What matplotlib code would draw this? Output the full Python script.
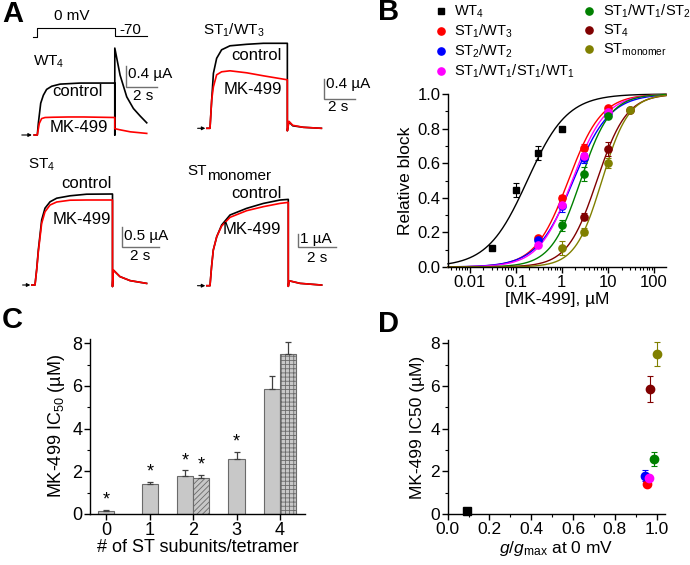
import numpy as np
import matplotlib
matplotlib.use("Agg")
import matplotlib.pyplot as plt
from matplotlib.lines import Line2D
from matplotlib.ticker import MultipleLocator, NullFormatter, LogLocator

plt.rcParams['font.family'] = ['Liberation Sans', 'DejaVu Sans']
plt.rcParams['mathtext.fontset'] = 'custom'
plt.rcParams['mathtext.rm'] = 'Liberation Sans'
plt.rcParams['mathtext.it'] = 'Liberation Sans:italic'
plt.rcParams['mathtext.bf'] = 'Liberation Sans:bold'
plt.rcParams['hatch.linewidth'] = 0.6

# ---------------- Panel A data (currents in uA, time in s) ----------------
prot_t = [-0.28, 0.0, 0.0, 5.0, 5.0, 7.05]
prot_v = [-80, -80, 0, 0, -70, -70]

wt4_t_ctrl = [-0.2, 0.0, 0.067, 0.22, 0.39, 0.6, 0.93, 1.47, 2.76, 5.0, 5.0, 5.0, 5.34, 5.77, 6.2, 6.63, 7.06]
wt4_ctrl = [0, 0, 0.22, 0.60, 0.75, 0.86, 0.92, 0.96, 0.98, 0.98, 0.0, 1.64, 1.13, 0.72, 0.50, 0.36, 0.23]
wt4_t_mk = [-0.2, 0.0, 0.13, 0.28, 0.5, 1.0, 2.0, 3.0, 4.0, 5.0, 5.0, 5.3, 6.0, 7.06]
wt4_mk = [0, 0, 0.22, 0.31, 0.33, 0.335, 0.34, 0.34, 0.335, 0.33, 0.12, 0.10, 0.06, 0.03]

st1_t = [-0.2, 0.0, 0.11, 0.22, 0.43, 0.75, 1.29, 2.37, 3.45, 5.0, 5.0, 5.1, 5.35, 6.03, 7.2]
st1_ctrl = [0, 0, 0.57, 1.10, 1.40, 1.57, 1.65, 1.68, 1.70, 1.70, -0.05, 0.13, 0.05, 0.02, 0.0]
st1_mk = [0, 0, 0.57, 0.83, 1.07, 1.13, 1.15, 1.11, 1.05, 0.97, -0.05, 0.14, 0.06, 0.02, 0.0]

st4_t = [-0.2, 0.0, 0.11, 0.215, 0.43, 0.645, 0.97, 1.4, 2.26, 3.33, 5.0, 5.0, 5.05, 5.48, 6.13, 7.2]
st4_ctrl = [0, 0, 0.40, 0.875, 1.625, 1.92, 2.08, 2.17, 2.23, 2.27, 2.275, -0.04, 0.375, 0.21, 0.11, 0.04]
st4_mk = [0, 0, 0.38, 0.83, 1.54, 1.83, 2.0, 2.075, 2.12, 2.125, 2.125, -0.04, 0.375, 0.21, 0.11, 0.04]

mono_t = [-0.2, 0.0, 0.1, 0.21, 0.43, 0.745, 1.28, 2.34, 3.41, 4.47, 5.0, 5.0, 5.05, 5.75, 7.13]
mono_ctrl = [0, 0, 1.46, 2.74, 3.77, 4.67, 5.44, 5.95, 6.33, 6.59, 6.64, -0.05, 0.38, 0.18, 0.05]
mono_mk = [0, 0, 1.46, 2.74, 3.77, 4.59, 5.26, 5.77, 6.08, 6.33, 6.41, -0.05, 0.38, 0.18, 0.05]

# ---------------- Panel B data ----------------
b_names = ['WT$_4$', 'ST$_1$/WT$_3$', 'ST$_2$/WT$_2$', 'ST$_1$/WT$_1$/ST$_1$/WT$_1$',
           'ST$_1$/WT$_1$/ST$_2$', 'ST$_4$', 'ST$_{\\mathrm{monomer}}$']
b_colors = ['black', '#ff0000', '#0000ff', '#ff00ff', '#008000', '#800000', '#808000']
b_markers = ['s', 'o', 'o', 'o', 'o', 'o', 'o']
b_conc = [[0.03, 0.1, 0.3, 1],
          [0.3, 1, 3, 10],
          [0.3, 1, 3, 10],
          [0.3, 1, 3, 10],
          [1, 3, 10],
          [3, 10, 30],
          [1, 3, 10, 30]]
b_block = [[0.11, 0.445, 0.66, 0.80],
           [0.165, 0.40, 0.69, 0.92],
           [0.155, 0.35, 0.63, 0.89],
           [0.13, 0.36, 0.64, 0.895],
           [0.24, 0.54, 0.875],
           [0.29, 0.68, 0.91],
           [0.11, 0.205, 0.60, 0.905]]
b_err = [[0.01, 0.04, 0.04, 0.01],
         [0.015, 0.015, 0.02, 0.01],
         [0.015, 0.03, 0.03, 0.015],
         [0.015, 0.02, 0.02, 0.01],
         [0.03, 0.04, 0.015],
         [0.02, 0.04, 0.01],
         [0.04, 0.02, 0.03, 0.01]]
b_ic50 = [0.18, 1.4, 1.8, 1.7, 2.58, 5.85, 7.5]
b_hill = [1.0, 1.2, 1.1, 1.2, 1.35, 1.35, 1.5]

# ---------------- Panel C data ----------------
c_cat = [0, 1, 2, 2, 3, 4, 4]
c_val = [0.15, 1.4, 1.8, 1.7, 2.58, 5.85, 7.5]
c_err = [0.05, 0.1, 0.25, 0.15, 0.33, 0.6, 0.55]
c_hatch = [None, None, None, '//////', None, None, '++++']
c_star = [True, True, True, True, True, False, False]
c_ticklabels = ['0', '1', '2', '3', '4']

# ---------------- Panel D data ----------------
d_g = [0.09, 0.953, 0.944, 0.965, 0.985, 0.968, 1.0]
d_ic50 = [0.15, 1.4, 1.8, 1.7, 2.58, 5.85, 7.5]
d_err = [0.06, 0.1, 0.25, 0.15, 0.33, 0.6, 0.55]
d_colors = ['black', '#ff0000', '#0000ff', '#ff00ff', '#008000', '#800000', '#808000']
d_markers = ['s', 'o', 'o', 'o', 'o', 'o', 'o']

W, H = 690, 565
fig = plt.figure(figsize=(W / 100, H / 100), dpi=100)


def box(l, t, r, b):
    return [l / W, 1 - b / H, (r - l) / W, (b - t) / H]


def ftext(x, y, s, **kw):
    kw.setdefault('ha', 'center')
    kw.setdefault('va', 'center')
    return fig.text(x / W, 1 - y / H, s, **kw)


def trace_ax(l, t, r, b, x0, pps, y0, ppu):
    ax = fig.add_axes(box(l, t, r, b))
    ax.set_xlim((l - x0) / pps, (r - x0) / pps)
    ax.set_ylim((y0 - b) / ppu, (y0 - t) / ppu)
    ax.axis('off')
    ax.patch.set_alpha(0)
    return ax


def to_data(xp, yp, x0, pps, y0, ppu):
    return (xp - x0) / pps, (y0 - yp) / ppu


def scalebar(ax, xp, yp, geo, dy, dx=2.0):
    x, y = to_data(xp, yp, *geo)
    ax.plot([x, x, x + dx], [y + dy, y, y], color='#707070', lw=1.0, clip_on=False,
            solid_joinstyle='miter')


def base_arrow(ax, t0, t1):
    ax.annotate('', xy=(t1, 0), xytext=(t0, 0),
                arrowprops=dict(arrowstyle='-|>', lw=0.8, color='black', mutation_scale=5,
                                shrinkA=0, shrinkB=0))


fs_a = 11
fs_lab = 12
lw_tr = 1.2
# WT4
g1 = (37.3, 15.5, 135.0, 53.0)
ax1 = trace_ax(20, 40, 178, 142, *g1)
ax1.plot(wt4_t_ctrl, wt4_ctrl, color='black', lw=lw_tr)
ax1.plot(wt4_t_mk, wt4_mk, color='red', lw=lw_tr)
scalebar(ax1, 126, 87.3, g1, 0.4)
base_arrow(ax1, -1.0, -0.35)
axp = trace_ax(20, 18, 178, 42, 37.3, 15.5, 27.7, 0.12)
axp.plot(prot_t, prot_v, color='black', lw=0.8)
ftext(71.7, 16.0, '0 mV', fontsize=fs_a)
ftext(130, 29.5, '-70', fontsize=fs_a)
ftext(33, 62, 'WT$_4$', fontsize=fs_a, ha='left')
ftext(77, 91.7, 'control', fontsize=fs_lab)
ftext(79, 127, 'MK-499', fontsize=fs_lab)
ftext(128, 74, '0.4 µA', fontsize=fs_a, ha='left')
ftext(143, 96, '2 s', fontsize=fs_a)

# ST1/WT3
g2 = (210.0, 15.47, 128.3, 50.0)
ax2 = trace_ax(180, 30, 345, 142, *g2)
ax2.plot(st1_t, st1_ctrl, color='black', lw=lw_tr)
ax2.plot(st1_t, st1_mk, color='red', lw=lw_tr)
scalebar(ax2, 324, 99.3, g2, 0.4)
base_arrow(ax2, -0.8, -0.3)
ftext(203, 30, 'ST$_1$/WT$_3$', fontsize=fs_a, ha='left')
ftext(256.7, 55, 'control', fontsize=fs_lab)
ftext(253, 90, 'MK-499', fontsize=fs_lab)
ftext(326, 84, '0.4 µA', fontsize=fs_a, ha='left')
ftext(338, 107, '2 s', fontsize=fs_a)

# ST4
g3 = (35.0, 15.5, 285.0, 40.0)
ax3 = trace_ax(20, 150, 178, 292, *g3)
ax3.plot(st4_t, st4_ctrl, color='black', lw=lw_tr)
ax3.plot(st4_t, st4_mk, color='red', lw=lw_tr)
scalebar(ax3, 121.7, 246.7, g3, 0.5, dx=2.4)
base_arrow(ax3, -0.8, -0.3)
ftext(28, 165, 'ST$_4$', fontsize=fs_a, ha='left')
ftext(86.7, 183.3, 'control', fontsize=fs_lab)
ftext(81.7, 219, 'MK-499', fontsize=fs_lab)
ftext(124, 236, '0.5 µA', fontsize=fs_a, ha='left')
ftext(140, 256, '2 s', fontsize=fs_a)

# ST monomer
g4 = (210.0, 15.66, 285.7, 13.0)
ax4 = trace_ax(180, 150, 345, 292, *g4)
ax4.plot(mono_t, mono_ctrl, color='black', lw=lw_tr)
ax4.plot(mono_t, mono_mk, color='red', lw=lw_tr)
scalebar(ax4, 298.3, 247.3, g4, 1.0, dx=2.4)
base_arrow(ax4, -0.8, -0.3)
ftext(187, 171, 'ST', fontsize=fs_a, ha='left')
ftext(207, 176, 'monomer', fontsize=fs_a, ha='left')
ftext(256.7, 193.3, 'control', fontsize=fs_lab)
ftext(251.7, 229.3, 'MK-499', fontsize=fs_lab)
ftext(300, 239, '1 µA', fontsize=fs_a, ha='left')
ftext(316.7, 258, '2 s', fontsize=fs_a)

# panel letters
for (x, y, s) in [(12.4, 13.7, 'A'), (389, 12.5, 'B'), (12, 320, 'C'), (388, 324, 'D')]:
    ftext(x, y, s, fontsize=21, fontweight='bold')


def style_axes(ax, fs):
    for s in ['top', 'right']:
        ax.spines[s].set_visible(False)
    for s in ['left', 'bottom']:
        ax.spines[s].set_linewidth(1.0)
    ax.tick_params(which='major', direction='out', length=4, width=1.0, labelsize=fs, pad=1.5)
    ax.tick_params(which='minor', direction='out', length=2.2, width=0.8)


# ---------------- Panel B ----------------
axB = fig.add_axes(box(448, 94, 666, 267))
axB.set_xscale('log')
xlo, xhi = 0.0034, 185
axB.set_xlim(xlo, xhi)
axB.set_ylim(0, 1.0)
xx = np.logspace(np.log10(xlo), np.log10(xhi), 400)
for i in range(len(b_names)):
    yy = 1.0 / (1.0 + (b_ic50[i] / xx) ** b_hill[i])
    axB.plot(xx, yy, color=b_colors[i], lw=1.0, clip_on=False)
handles = []
for i in range(len(b_names)):
    axB.errorbar(b_conc[i], b_block[i], yerr=b_err[i], fmt=b_markers[i], color=b_colors[i],
                 ms=5.2 if b_markers[i] == 'o' else 4.6, capsize=2, elinewidth=0.8,
                 capthick=0.8, clip_on=False, zorder=3)
    handles.append(Line2D([], [], ls='none', marker=b_markers[i], color=b_colors[i],
                          ms=5.2 if b_markers[i] == 'o' else 4.6))
style_axes(axB, 12)
axB.set_xticks([0.01, 0.1, 1, 10, 100], labels=['0.01', '0.1', '1', '10', '100'])
axB.xaxis.set_minor_locator(LogLocator(base=10, subs=np.arange(2, 10), numticks=20))
axB.xaxis.set_minor_formatter(NullFormatter())
axB.set_yticks([0, 0.2, 0.4, 0.6, 0.8, 1.0], labels=['0.0', '0.2', '0.4', '0.6', '0.8', '1.0'])
axB.yaxis.set_minor_locator(MultipleLocator(0.1))
axB.set_ylabel('Relative block', fontsize=12.5, labelpad=3)
axB.set_xlabel('[MK-499], µM', fontsize=12.5, labelpad=2)
leg = fig.legend(handles, b_names, ncol=2, loc='upper left',
                 bbox_to_anchor=(432 / W, 1 - 0 / H), frameon=False, fontsize=10.5,
                 handlelength=0.8, handletextpad=0.5, labelspacing=0.18,
                 columnspacing=0.6, borderaxespad=0, borderpad=0.2)

# ---------------- Panel C ----------------
axC = fig.add_axes(box(90, 339, 305, 514))
axC.set_xlim(-0.38, 4.58)
axC.set_ylim(0, 8.2)
w = 0.37
counts = {c: c_cat.count(c) for c in c_cat}
seen = {}
for i in range(len(c_cat)):
    c = c_cat[i]
    k = seen.get(c, 0)
    seen[c] = k + 1
    off = 0.0 if counts[c] == 1 else (-w / 2 if k == 0 else w / 2)
    x = c + off
    axC.bar(x, c_val[i], width=w, color='#c8c8c8', edgecolor='#6a6a6a', lw=0.8,
            hatch=c_hatch[i], zorder=2)
    axC.errorbar(x, c_val[i], yerr=[[0], [c_err[i]]], fmt='none', ecolor='#404040',
                 elinewidth=0.9, capsize=2.5, capthick=0.9, zorder=3)
    if c_star[i]:
        axC.text(x, c_val[i] + c_err[i] + 0.45, '*', ha='center', va='center', fontsize=13)
style_axes(axC, 13)
axC.set_xticks(range(5), labels=c_ticklabels)
axC.set_yticks([0, 2, 4, 6, 8])
axC.yaxis.set_minor_locator(MultipleLocator(1))
axC.set_ylabel('MK-499 IC$_{50}$ (µM)', fontsize=13, labelpad=4)
axC.set_xlabel('# of ST subunits/tetramer', fontsize=13, labelpad=0)

# ---------------- Panel D ----------------
axD = fig.add_axes(box(447.7, 340, 665, 514))
axD.set_xlim(0, 1.04)
axD.set_ylim(0, 8.15)
for i in range(len(d_g)):
    axD.errorbar(d_g[i], d_ic50[i], yerr=d_err[i], fmt=d_markers[i], color=d_colors[i],
                 ms=6.0 if d_markers[i] == 'o' else 5.4, capsize=2, elinewidth=0.8,
                 capthick=0.8, clip_on=False, zorder=3)
style_axes(axD, 12.5)
axD.set_xticks([0, 0.2, 0.4, 0.6, 0.8, 1.0], labels=['0.0', '0.2', '0.4', '0.6', '0.8', '1.0'])
axD.xaxis.set_minor_locator(MultipleLocator(0.1))
axD.set_yticks([0, 2, 4, 6, 8])
axD.yaxis.set_minor_locator(MultipleLocator(1))
axD.set_ylabel('MK-499 IC50 (µM)', fontsize=12.5, labelpad=4)
axD.set_xlabel('$g$/$g_{\\mathrm{max}}$ at 0 mV', fontsize=12.5, labelpad=2)

fig.savefig('out.png', dpi=100)
